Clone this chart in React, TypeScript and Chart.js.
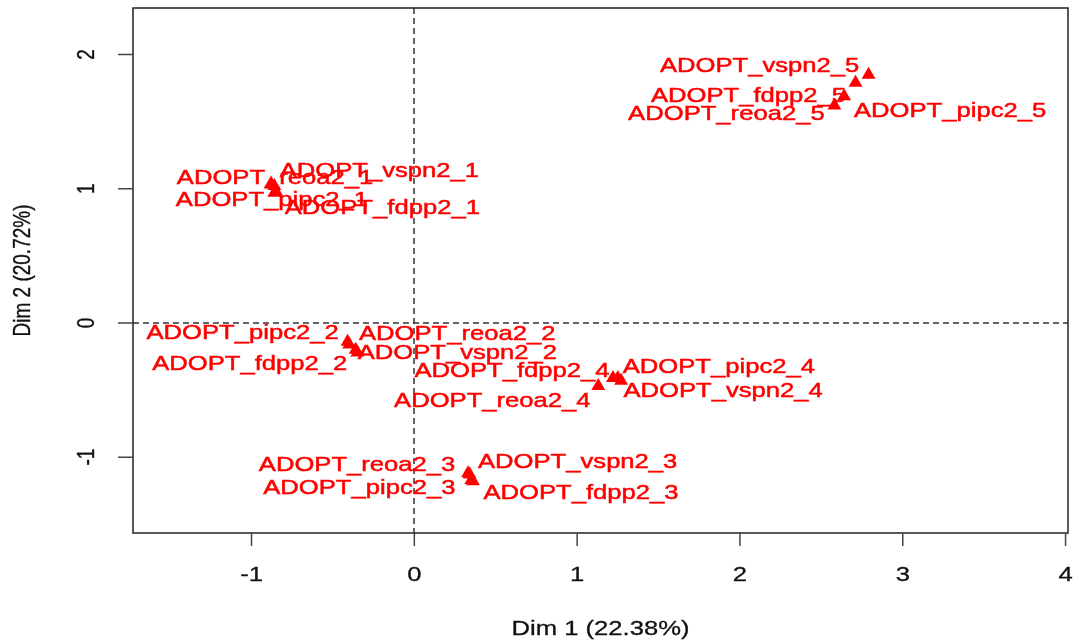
import React, { useEffect, useRef } from "react";
import { Chart, registerables } from "chart.js";

Chart.register(...registerables);

// ---- data ----
const LABELS = [
  "ADOPT_reoa2_1", "ADOPT_vspn2_1", "ADOPT_pipc2_1", "ADOPT_fdpp2_1",
  "ADOPT_pipc2_2", "ADOPT_reoa2_2", "ADOPT_vspn2_2", "ADOPT_fdpp2_2",
  "ADOPT_reoa2_3", "ADOPT_vspn2_3", "ADOPT_pipc2_3", "ADOPT_fdpp2_3",
  "ADOPT_reoa2_4", "ADOPT_fdpp2_4", "ADOPT_pipc2_4", "ADOPT_vspn2_4",
  "ADOPT_vspn2_5", "ADOPT_fdpp2_5", "ADOPT_pipc2_5", "ADOPT_reoa2_5",
];
const DIM1 = [
  -0.88, -0.86, -0.85, -0.86,
  -0.41, -0.40, -0.35, -0.36,
  0.33, 0.34, 0.35, 0.36,
  1.13, 1.22, 1.25, 1.27,
  2.79, 2.71, 2.64, 2.58,
];
const DIM2 = [
  1.04, 1.02, 0.98, 0.97,
  -0.14, -0.16, -0.22, -0.20,
  -1.12, -1.13, -1.17, -1.18,
  -0.47, -0.41, -0.41, -0.43,
  1.85, 1.79, 1.69, 1.62,
];
const X_TICKS = [-1, 0, 1, 2, 3, 4];
const Y_TICKS = [-1, 0, 1, 2];
const X_TITLE = "Dim 1 (22.38%)";
const Y_TITLE = "Dim 2 (20.72%)";

// ---- layout (label placement offsets in px, relative to the point) ----
const LABEL_OFFSETS: [number, number][] = [
  [4, -5], [105, -15], [-4, 9], [108, 15],
  [-105, -9], [108, -10], [100, 1], [-106, 14],
  [-111, -8], [108, -12], [-112, 8], [108, 12],
  [-106, 15], [-101, -7], [101, -11], [102, 11],
  [-109, -8], [-107, 13], [106, 15], [-108, 9],
];

const X_MIN = -1.728;
const X_MAX = 4.015;
const Y_MIN = -1.565;
const Y_MAX = 2.347;

const SX = 1.22;
const FONT = "21px 'Liberation Sans', Arial, sans-serif";
const RFONT = "19px 'Liberation Sans', Arial, sans-serif";

function drawText(
  ctx: CanvasRenderingContext2D,
  text: string,
  x: number,
  y: number,
  color: string,
  rotated = false,
  stroke = 0
) {
  ctx.save();
  ctx.translate(x, y);
  ctx.scale(rotated ? 1.25 : SX, 1);
  if (rotated) ctx.rotate(-Math.PI / 2);
  ctx.font = rotated ? RFONT : FONT;
  ctx.fillStyle = color;
  ctx.textAlign = "center";
  ctx.textBaseline = "middle";
  ctx.fillText(text, 0, 0);
  if (stroke > 0) {
    ctx.strokeStyle = color;
    ctx.lineWidth = stroke;
    ctx.strokeText(text, 0, 0);
  }
  ctx.restore();
}

const framePlugin = {
  id: "frame",
  beforeDatasetsDraw(chart: any) {
    const { ctx, chartArea: a, scales } = chart;
    const xs = scales.x;
    const ys = scales.y;
    ctx.save();
    // dashed zero lines
    ctx.strokeStyle = "#333333";
    ctx.lineWidth = 1.5;
    ctx.setLineDash([6, 4]);
    const x0 = Math.round(xs.getPixelForValue(0));
    const y0 = Math.round(ys.getPixelForValue(0));
    ctx.beginPath();
    ctx.moveTo(x0, a.top);
    ctx.lineTo(x0, a.bottom);
    ctx.moveTo(a.left, y0);
    ctx.lineTo(a.right, y0);
    ctx.stroke();
    ctx.setLineDash([]);
    // box
    ctx.strokeStyle = "#222222";
    ctx.lineWidth = 1.5;
    ctx.strokeRect(a.left, a.top, a.right - a.left, a.bottom - a.top);
    // ticks
    ctx.strokeStyle = "#444444";
    ctx.lineWidth = 1.5;
    ctx.beginPath();
    X_TICKS.forEach((v) => {
      const px = xs.getPixelForValue(v);
      ctx.moveTo(px, a.bottom);
      ctx.lineTo(px, a.bottom + 13);
    });
    Y_TICKS.forEach((v) => {
      const py = ys.getPixelForValue(v);
      ctx.moveTo(a.left, py);
      ctx.lineTo(a.left - 15, py);
    });
    ctx.stroke();
    ctx.restore();
    // tick labels
    X_TICKS.forEach((v) => {
      drawText(ctx, String(v), xs.getPixelForValue(v), a.bottom + 42, "#111111", false, 0.3);
    });
    Y_TICKS.forEach((v) => {
      drawText(ctx, String(v), a.left - 46, ys.getPixelForValue(v), "#111111", true, 0.3);
    });
    drawText(ctx, X_TITLE, (a.left + a.right) / 2, a.bottom + 96, "#111111", false, 0.3);
    drawText(ctx, Y_TITLE, 23, (a.top + a.bottom) / 2, "#111111", true, 0.3);
  },
  afterDatasetsDraw(chart: any) {
    const { ctx, scales } = chart;
    LABELS.forEach((lab, i) => {
      const px = scales.x.getPixelForValue(DIM1[i]);
      const py = scales.y.getPixelForValue(DIM2[i]);
      const [dx, dy] = LABEL_OFFSETS[i];
      drawText(ctx, lab, px + dx, py + dy, "#ff0000", false, 0.5);
    });
  },
};

export default function App() {
  const ref = useRef<HTMLCanvasElement | null>(null);
  useEffect(() => {
    if (!ref.current) return;
    const chart = new Chart(ref.current, {
      type: "scatter",
      data: {
        datasets: [
          {
            data: DIM1.map((x, i) => ({ x, y: DIM2[i] })),
            pointStyle: "triangle",
            pointRadius: 8,
            backgroundColor: "#ff0000",
            borderColor: "#ff0000",
            borderWidth: 0,
          },
        ],
      },
      options: {
        animation: false,
        responsive: false,
        layout: { padding: { left: 133, top: 3, right: 4, bottom: 111 } },
        scales: {
          x: { type: "linear", min: X_MIN, max: X_MAX, display: false },
          y: { type: "linear", min: Y_MIN, max: Y_MAX, display: false },
        },
        plugins: {
          legend: { display: false },
          tooltip: { enabled: false },
        },
      },
      plugins: [framePlugin],
    });
    return () => chart.destroy();
  }, []);
  return (
    <div style={{ position: "absolute", left: 0, top: 0, width: 1076, height: 644, background: "#fff" }}>
      <canvas ref={ref} width={1076} height={644} />
    </div>
  );
}
